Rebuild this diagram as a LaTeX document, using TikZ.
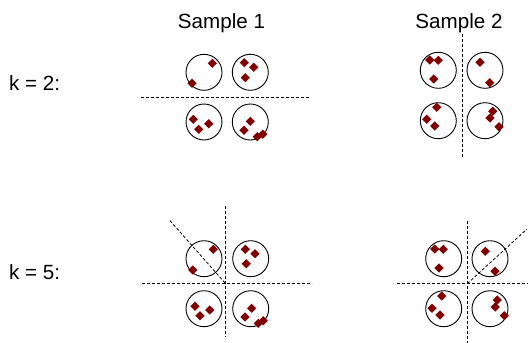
\documentclass[tikz,border=0pt]{standalone}
\usepackage{fontspec}
\setmainfont{Liberation Sans}
\definecolor{dred}{RGB}{128,0,0}
\tikzset{
  clus/.style={draw=black,line width=0.9pt,circle,minimum size=36pt,inner sep=0pt},
  split/.style={draw=black,line width=0.8pt,dash pattern=on 3pt off 2pt},
  lbl/.style={inner sep=0pt,font=\fontsize{20.6}{24}\selectfont},
  mk/.pic={\fill[dred] (0,4.6) -- (4.6,0) -- (0,-4.6) -- (-4.6,0) -- cycle;}
}
\begin{document}
\begin{tikzpicture}[x=1pt,y=-1pt]
\useasboundingbox (0,0) rectangle (528,343);
% labels
\node[lbl,anchor=base] (s1) at (221.5,28.3) {Sample 1};
\node[lbl,anchor=base] (s2) at (459,28.3) {Sample 2};
\node[lbl,anchor=base west] (k2) at (9,90.7) {k = 2:};
\node[lbl,anchor=base west] (k5) at (9,279) {k = 5:};
% ---- top row, sample 1
\node[clus] (a1) at (204,72.3) {};
\node[clus] (a2) at (250.3,72.3) {};
\node[clus] (a3) at (204,122) {};
\node[clus] (a4) at (250.3,122) {};
\coordinate (ah1) at (141,97.7); \coordinate (ah2) at (310,97.7);
\draw[split] (ah1) -- (ah2);
\foreach \p in {(212.3,63.3),(192,83.3),
  (244.3,62.7),(253.7,67.3),(245.3,77.7),
  (193.3,119.3),(208.7,123.7),(198.7,129.3),
  (250.3,121.3),(244,130.3),(257.3,136.7),(262.7,134.3)}
  \pic at \p {mk};
% ---- top row, sample 2
\node[clus] (b1) at (438.3,70.3) {};
\node[clus] (b2) at (485,70.3) {};
\node[clus] (b3) at (438.3,120.7) {};
\node[clus] (b4) at (485,120.7) {};
\coordinate (bv1) at (462.3,33.5); \coordinate (bv2) at (462.3,158);
\draw[split] (bv1) -- (bv2);
\foreach \p in {(429.7,60),(438.3,60.3),(433.7,79),
  (480,62.3),(489.7,82.7),
  (436.7,107.3),(426.7,119.3),(434.7,126),
  (492.7,111.3),(490,118),(499,126.7)}
  \pic at \p {mk};
% ---- bottom row, sample 1
\node[clus] (c1) at (204,258.7) {};
\node[clus] (c2) at (250.7,258.7) {};
\node[clus] (c3) at (204,308.7) {};
\node[clus] (c4) at (250.7,308.7) {};
\coordinate (ch1) at (142,283.7); \coordinate (ch2) at (312,283.7);
\coordinate (cv1) at (225.7,206); \coordinate (cv2) at (225.7,337);
\coordinate (cx) at (225.7,283.7); \coordinate (cd) at (170,220.7);
\draw[split] (ch1) -- (ch2);
\draw[split] (cv1) -- (cv2);
\draw[split] (cd) -- (cx);
\foreach \p in {(213.3,249.3),(192.7,270),
  (245.3,249.3),(255,253.7),(246.3,263.7),
  (195,306.3),(209.7,310),(200,315.7),
  (251.7,308.3),(245,317),(258.3,323.3),(263.3,320.7)}
  \pic at \p {mk};
% ---- bottom row, sample 2
\node[clus] (d1) at (443.7,258.7) {};
\node[clus] (d2) at (490,258.7) {};
\node[clus] (d3) at (443.7,308.7) {};
\node[clus] (d4) at (490,308.7) {};
\coordinate (dh1) at (397.3,283.7); \coordinate (dh2) at (528,283.7);
\coordinate (dv1) at (467.3,220.7); \coordinate (dv2) at (467.3,343);
\coordinate (dx) at (467.3,283.7); \coordinate (dd) at (526.7,229.3);
\draw[split] (dh1) -- (dh2);
\draw[split] (dv1) -- (dv2);
\draw[split] (dx) -- (dd);
\foreach \p in {(434.7,249),(443.3,249.3),(439,268),
  (485.3,251.3),(495,271.3),
  (441.7,296),(432,308.3),(440,315),
  (497.3,300),(495.3,307),(504.3,315.7)}
  \pic at \p {mk};
\end{tikzpicture}
\end{document}
